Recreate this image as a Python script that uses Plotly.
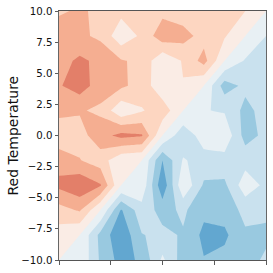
import plotly.graph_objects as go

blue_temperature = [-10, -8, -6, -4, -2, 0, 2, 4, 6, 8, 10]
red_temperature = [-10, -8, -6, -4, -2, 0, 2, 4, 6, 8, 10]

row_m10 = [0, -0.1, -2.15, -3.4, -2.8, -0.8, -2.5, -2.95, -2.7, -2.6, -1.75]
row_m8 = [0.53, 0, -2.3, -3.8, -2.05, -1.75, -2.1, -3.26, -3.2, -2.16, -2.3]
row_m6 = [1.6, 2.1, 0, -3.1, -1.4, -2.37, -1.81, -2.76, -2.6, -1.7, -1.7]
row_m4 = [3.25, 3.8, 3.1, 0, -0.2, -3.8, -0.1, -2.15, -2.2, -0.4, -1.25]
row_m2 = [2.6, 2.05, 1.5, 0.2, 0, -3.0, -0.9, -1.4, -1.4, -1.4, -1.6]
row_0 = [1.3, 1.6, 2.6, 3.3, 3.1, 0, -1.7, -0.5, -0.2, -2.4, -1.75]
row_p2 = [2.3, 2.1, 1.8, 0.2, 0.9, 1.6, 0, -0.95, -1.1, -2.3, -1.6]
row_p4 = [2.9, 3.5, 2.5, 2.2, 1.6, 0.25, 0.95, 0, -2.5, -1.75, -1.5]
row_p6 = [2.6, 3.2, 2.75, 2.1, 1.75, 0.15, 1.1, 2.39, 0, -1.1, -1.5]
row_p8 = [2.4, 2.2, 1.8, 0.3, 1.2, 2.65, 2.4, 1.6, 1.1, 0, -1.0]
row_p10 = [1.9, 2.1, 1.85, 1.3, 1.3, 1.7, 1.4, 1.5, 1.4, 1.0, 0]

band_colors = ["#3a84bb", "#62a7d0", "#99c9e0", "#c9e1ee", "#e8f0f4",
               "#faece5", "#fdd6c1", "#f5ae91", "#e37f69", "#c94a4a"]
y_ticks = [-10, -7.5, -5, -2.5, 0, 2.5, 5, 7.5, 10]
y_tick_text = ["\u221210.0", "\u22127.5", "\u22125.0", "\u22122.5", "0.0", "2.5", "5.0", "7.5", "10.0"]
x_ticks = [-10, -5, 0, 5, 10]

z = [row_m10, row_m8, row_m6, row_m4, row_m2, row_0, row_p2, row_p4, row_p6, row_p8, row_p10]

n = len(band_colors)
colorscale = []
for i, c in enumerate(band_colors):
    colorscale.append([i / n, c])
    colorscale.append([(i + 1) / n, c])

fig = go.Figure(go.Contour(
    x=blue_temperature, y=red_temperature, z=z,
    zmin=-5, zmax=5, colorscale=colorscale, showscale=False,
    autocontour=False,
    contours=dict(start=-5, end=5, size=1, coloring="fill", showlines=False),
    line=dict(width=0, smoothing=0),
    hoverinfo="skip",
))
fig.update_layout(
    width=273, height=273, autosize=False,
    margin=dict(l=59, r=7, t=10.5, b=13),
    paper_bgcolor="white", plot_bgcolor="white",
    font=dict(family="DejaVu Sans", size=10.2, color="#111111"),
    showlegend=False,
    annotations=[dict(text="Red Temperature", textangle=-90, xref="paper", yref="paper",
                      x=0, y=0.5, xanchor="center", yanchor="middle", xshift=-47, showarrow=False,
                      font=dict(size=14, family="DejaVu Sans", color="#111111"))],
)
fig.update_xaxes(range=[-10, 10], tickmode="array", tickvals=x_ticks, showticklabels=False,
                 ticks="outside", ticklen=3.5, tickwidth=0.8, tickcolor="#333333",
                 showgrid=False, zeroline=False, showline=True, linewidth=1, linecolor="#555555", mirror=True)
fig.update_yaxes(range=[-10, 10], tickmode="array", tickvals=y_ticks, ticktext=y_tick_text,
                 ticks="outside", ticklen=3.5, tickwidth=0.8, tickcolor="#333333",
                 showgrid=False, zeroline=False, showline=True, linewidth=1, linecolor="#666666", mirror=True)
fig.write_html("out.html", config={"displayModeBar": False, "staticPlot": True},
               post_script="document.body.style.margin='0';document.documentElement.style.overflow='hidden';")
